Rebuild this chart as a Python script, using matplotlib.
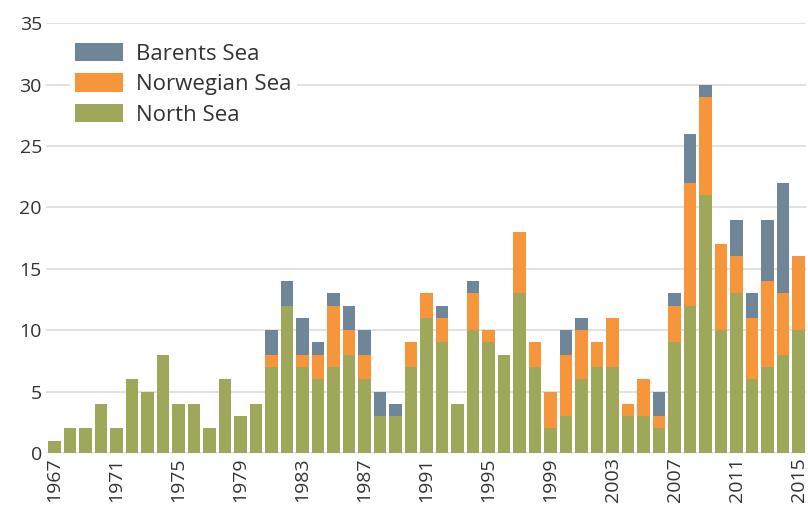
import matplotlib
matplotlib.use("Agg")
import matplotlib.pyplot as plt
import numpy as np

years = list(range(1967, 2016))
north_sea = [1, 2, 2, 4, 2, 6, 5, 8, 4, 4, 2, 6, 3, 4,
             7, 12, 7, 6, 7, 8, 6, 3, 3, 7, 11, 9, 4, 10, 9, 8, 13, 7,
             2, 3, 6, 7, 7, 3, 3, 2, 9, 12, 21, 10, 13, 6, 7, 8, 10]
norwegian_sea = [0, 0, 0, 0, 0, 0, 0, 0, 0, 0, 0, 0, 0, 0,
                 1, 0, 1, 2, 5, 2, 2, 0, 0, 2, 2, 2, 0, 3, 1, 0, 5, 2,
                 3, 5, 4, 2, 4, 1, 3, 1, 3, 10, 8, 7, 3, 5, 7, 5, 6]
barents_sea = [0, 0, 0, 0, 0, 0, 0, 0, 0, 0, 0, 0, 0, 0,
               2, 2, 3, 1, 1, 2, 2, 2, 1, 0, 0, 1, 0, 1, 0, 0, 0, 0,
               0, 2, 1, 0, 0, 0, 0, 2, 1, 4, 1, 0, 3, 2, 5, 9, 0]
tick_years = list(range(1967, 2016, 4))
yticks = [0, 5, 10, 15, 20, 25, 30, 35]

c_north = "#9fa85a"
c_norw = "#f7953a"
c_bar = "#6e8698"

plt.rcParams['font.family'] = ['Open Sans', 'DejaVu Sans']

fig = plt.figure(figsize=(8.08, 5.14), dpi=100)
ax = fig.add_axes([0.057, 0.1187, 0.941, 0.8363])

x = np.arange(len(years))
ns = np.array(north_sea)
nw = np.array(norwegian_sea)
bs = np.array(barents_sea)
w = 0.8
ax.bar(x, ns, width=w, color=c_north, label="North Sea", zorder=2)
ax.bar(x, nw, width=w, bottom=ns, color=c_norw, label="Norwegian Sea", zorder=2)
ax.bar(x, bs, width=w, bottom=ns + nw, color=c_bar, label="Barents Sea", zorder=2)

ax.set_ylim(0, 35)
ax.set_xlim(-0.55, len(years) - 0.5)
ax.set_yticks(yticks)
ax.set_yticklabels([str(v) for v in yticks], fontsize=14, color="#333333")
ax.yaxis.grid(True, color="#dddddd", linewidth=1.2, zorder=0)
ax.set_axisbelow(True)
tick_pos = [years.index(y) for y in tick_years]
ax.set_xticks(tick_pos)
ax.set_xticklabels([str(y) for y in tick_years], rotation=90, fontsize=14,
                   color="#333333")
ax.tick_params(axis="both", length=0, pad=3)
for s in ax.spines.values():
    s.set_visible(False)

handles, labels = ax.get_legend_handles_labels()
leg = ax.legend(handles[::-1], labels[::-1], loc="upper left",
                bbox_to_anchor=(0.017, 0.99), frameon=True, fontsize=16,
                handlelength=2.2, handleheight=0.9, labelspacing=0.38,
                handletextpad=0.55, borderpad=0.2, edgecolor="white",
                framealpha=1.0, fancybox=False)
for t in leg.get_texts():
    t.set_color("#333333")

fig.savefig("out.png", dpi=100)
